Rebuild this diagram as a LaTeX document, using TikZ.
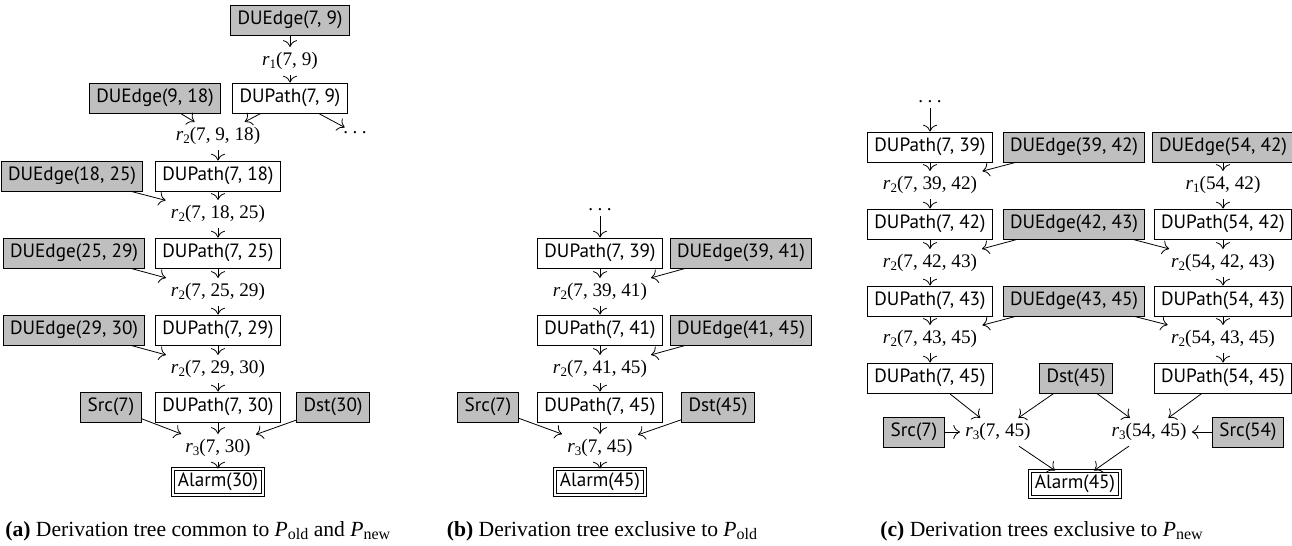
\documentclass[tikz,border=0pt]{standalone}
\usepackage{fontspec}
\usetikzlibrary{arrows.meta}
\newfontfamily\nf{PT Sans}
\newfontfamily\cf{Liberation Serif}
\newcommand{\rl}[2]{{\cf\textit{r}\raisebox{-0.35ex}{\fontsize{6.5}{7}\selectfont #1}(#2)}}
\newcommand{\Pp}[1]{\textit{P}\raisebox{-0.4ex}{\fontsize{8}{9}\selectfont #1}}
\newcommand{\spdots}{.\hspace{2.2pt}.\hspace{2.2pt}.}
\tikzset{
  box/.style={draw, font=\nf\fontsize{9.6}{11}\selectfont, inner xsep=3.5pt, inner ysep=0pt, minimum height=15pt, line width=0.5pt},
  edgebox/.style={box, fill=black!25},
  pathbox/.style={box, fill=white},
  alarmbox/.style={box, double, double distance=1pt, inner xsep=2.5pt, minimum height=13pt},
  rulenode/.style={font=\cf\fontsize{9.6}{11}\selectfont, inner sep=2.5pt},
  dotsnode/.style={font=\cf\fontsize{9.6}{11}\selectfont, inner sep=2pt},
  arr/.style={-{To[scale=1.35]}, line width=0.4pt},
  captext/.style={anchor=base west, font=\cf\fontsize{10.8}{12}\selectfont, inner sep=0pt},
}
\begin{document}
\begin{tikzpicture}[x=0.5pt, y=-0.5pt]
\useasboundingbox (0,0) rectangle (1292,546);
% ---------------- (a)
\node[edgebox] (ae79) at (290,20) {DUEdge(7, 9)};
\node[rulenode] (ar1) at (290,61) {\rl{1}{7, 9}};
\node[pathbox] (ap79) at (290,98) {DUPath(7, 9)};
\node[edgebox] (ae918) at (155,98) {DUEdge(9, 18)};
\node[rulenode] (ar2a) at (218,136) {\rl{2}{7, 9, 18}};
\node[dotsnode] (adots) at (355,133) {\spdots};
\node[pathbox] (ap718) at (218,176) {DUPath(7, 18)};
\node[edgebox] (ae1825) at (72,176) {DUEdge(18, 25)};
\node[rulenode] (ar2b) at (218,214) {\rl{2}{7, 18, 25}};
\node[pathbox] (ap725) at (218,253) {DUPath(7, 25)};
\node[edgebox] (ae2529) at (74,253) {DUEdge(25, 29)};
\node[rulenode] (ar2c) at (218,292) {\rl{2}{7, 25, 29}};
\node[pathbox] (ap729) at (218,330) {DUPath(7, 29)};
\node[edgebox] (ae2930) at (74,330) {DUEdge(29, 30)};
\node[rulenode] (ar2d) at (218,369) {\rl{2}{7, 29, 30}};
\node[pathbox] (ap730) at (218,407) {DUPath(7, 30)};
\node[edgebox] (asrc) at (111,407) {Src(7)};
\node[edgebox] (adst) at (333,407) {Dst(30)};
\node[rulenode] (ar3) at (218,448) {\rl{3}{7, 30}};
\node[alarmbox] (aalarm) at (218,482) {Alarm(30)};
\draw[arr] (ae79) -- (ar1);
\draw[arr] (ar1) -- (ap79);
\draw[arr] (ap79) -- (ar2a);
\draw[arr] (ae918) -- (ar2a);
\draw[arr] (ap79) -- (adots);
\draw[arr] (ar2a) -- (ap718);
\draw[arr] (ap718) -- (ar2b);
\draw[arr] (ae1825) -- (ar2b);
\draw[arr] (ar2b) -- (ap725);
\draw[arr] (ap725) -- (ar2c);
\draw[arr] (ae2529) -- (ar2c);
\draw[arr] (ar2c) -- (ap729);
\draw[arr] (ap729) -- (ar2d);
\draw[arr] (ae2930) -- (ar2d);
\draw[arr] (ar2d) -- (ap730);
\draw[arr] (ap730) -- (ar3);
\draw[arr] (asrc) -- (ar3);
\draw[arr] (adst) -- (ar3);
\draw[arr] (ar3) -- (aalarm);
% ---------------- (b)
\node[dotsnode] (bdots) at (600,210) {\spdots};
\node[pathbox] (bp739) at (600,253) {DUPath(7, 39)};
\node[edgebox] (be3941) at (741,253) {DUEdge(39, 41)};
\node[rulenode] (br2a) at (600,292) {\rl{2}{7, 39, 41}};
\node[pathbox] (bp741) at (600,330) {DUPath(7, 41)};
\node[edgebox] (be4145) at (741,330) {DUEdge(41, 45)};
\node[rulenode] (br2b) at (600,369) {\rl{2}{7, 41, 45}};
\node[pathbox] (bp745) at (600,407) {DUPath(7, 45)};
\node[edgebox] (bsrc) at (488,407) {Src(7)};
\node[edgebox] (bdst) at (718,407) {Dst(45)};
\node[rulenode] (br3) at (600,448) {\rl{3}{7, 45}};
\node[alarmbox] (balarm) at (600,482) {Alarm(45)};
\draw[arr] (bdots) -- (bp739);
\draw[arr] (bp739) -- (br2a);
\draw[arr] (be3941) -- (br2a);
\draw[arr] (br2a) -- (bp741);
\draw[arr] (bp741) -- (br2b);
\draw[arr] (be4145) -- (br2b);
\draw[arr] (br2b) -- (bp745);
\draw[arr] (bp745) -- (br3);
\draw[arr] (bsrc) -- (br3);
\draw[arr] (bdst) -- (br3);
\draw[arr] (br3) -- (balarm);
% ---------------- (c)
\node[dotsnode] (cdots) at (930,102) {\spdots};
\node[pathbox] (cp739) at (930,147) {DUPath(7, 39)};
\node[edgebox] (ce3942) at (1074,147) {DUEdge(39, 42)};
\node[edgebox] (ce5442) at (1223,147) {DUEdge(54, 42)};
\node[rulenode] (cr2a) at (930,185) {\rl{2}{7, 39, 42}};
\node[rulenode] (cr1) at (1223,185) {\rl{1}{54, 42}};
\node[pathbox] (cp742) at (930,224) {DUPath(7, 42)};
\node[edgebox] (ce4243) at (1074,224) {DUEdge(42, 43)};
\node[pathbox] (cp5442) at (1223,224) {DUPath(54, 42)};
\node[rulenode] (cr2b) at (930,263) {\rl{2}{7, 42, 43}};
\node[rulenode] (cr2c) at (1223,263) {\rl{2}{54, 42, 43}};
\node[pathbox] (cp743) at (930,301) {DUPath(7, 43)};
\node[edgebox] (ce4345) at (1074,301) {DUEdge(43, 45)};
\node[pathbox] (cp5443) at (1223,301) {DUPath(54, 43)};
\node[rulenode] (cr2d) at (930,339) {\rl{2}{7, 43, 45}};
\node[rulenode] (cr2e) at (1223,339) {\rl{2}{54, 43, 45}};
\node[pathbox] (cp745) at (930,378) {DUPath(7, 45)};
\node[edgebox] (cdst) at (1076,378) {Dst(45)};
\node[pathbox] (cp5445) at (1223,378) {DUPath(54, 45)};
\node[rulenode] (cr3a) at (998,432) {\rl{3}{7, 45}};
\node[edgebox] (csrc7) at (914,432) {Src(7)};
\node[rulenode] (cr3b) at (1149,432) {\rl{3}{54, 45}};
\node[edgebox] (csrc54) at (1248,432) {Src(54)};
\node[alarmbox] (calarm) at (1075,484) {Alarm(45)};
\draw[arr] (cdots) -- (cp739);
\draw[arr] (cp739) -- (cr2a);
\draw[arr] (ce3942) -- (cr2a);
\draw[arr] (ce5442) -- (cr1);
\draw[arr] (cr1) -- (cp5442);
\draw[arr] (cr2a) -- (cp742);
\draw[arr] (cp742) -- (cr2b);
\draw[arr] (ce4243) -- (cr2b);
\draw[arr] (ce4243) -- (cr2c);
\draw[arr] (cp5442) -- (cr2c);
\draw[arr] (cr2b) -- (cp743);
\draw[arr] (cr2c) -- (cp5443);
\draw[arr] (cp743) -- (cr2d);
\draw[arr] (ce4345) -- (cr2d);
\draw[arr] (ce4345) -- (cr2e);
\draw[arr] (cp5443) -- (cr2e);
\draw[arr] (cr2d) -- (cp745);
\draw[arr] (cr2e) -- (cp5445);
\draw[arr] (cp745) -- (cr3a);
\draw[arr] (cdst) -- (cr3a);
\draw[arr] (cdst) -- (cr3b);
\draw[arr] (cp5445) -- (cr3b);
\draw[arr] (csrc7) -- (cr3a);
\draw[arr] (csrc54) -- (cr3b);
\draw[arr] (cr3a) -- (calarm);
\draw[arr] (cr3b) -- (calarm);
% ---------------- captions
\node[captext] (capa) at (5,536) {\textbf{(a)} Derivation tree common to \Pp{old} and \Pp{new}};
\node[captext, anchor=base] (capb) at (602,536) {\textbf{(b)} Derivation tree exclusive to \Pp{old}};
\node[captext] (capc) at (880,536) {\textbf{(c)} Derivation trees exclusive to \Pp{new}};
\end{tikzpicture}
\end{document}
